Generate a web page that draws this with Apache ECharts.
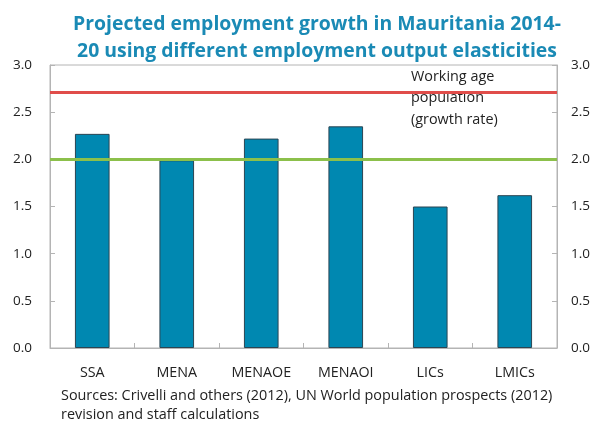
<!DOCTYPE html>
<html>
<head>
<meta charset="utf-8">
<script src="https://cdn.jsdelivr.net/npm/echarts@6/dist/echarts.min.js"></script>
<style>
  html, body { margin: 0; padding: 0; background: #fff; }
  #chart { width: 595px; height: 423px; }
</style>
</head>
<body>
<div id="chart"></div>
<script>
// Regions / income groups compared
const categories = ['SSA', 'MENA', 'MENAOE', 'MENAOI', 'LICs', 'LMICs'];
// Projected employment growth (%) under each elasticity assumption
const employmentGrowth = [2.27, 1.99, 2.22, 2.35, 1.50, 1.62];
// Reference growth rates (%)
const workingAgePopGrowth = 2.71;
const benchmarkLine = 2.0;
const yTicks = [0, 0.5, 1.0, 1.5, 2.0, 2.5, 3.0];

const FONT = '"Open Sans", "Noto Sans", sans-serif';
const axisGray = '#b4b4b4';
const labelColor = '#222';

const chart = echarts.init(document.getElementById('chart'), null, { renderer: 'canvas' });

const yAxisBase = {
  type: 'value',
  min: yTicks[0],
  max: yTicks[yTicks.length - 1],
  interval: 0.5,
  axisLine: { show: true, lineStyle: { color: axisGray } },
  axisTick: { show: true, inside: true, length: 5, lineStyle: { color: axisGray } },
  splitLine: { show: false },
  axisLabel: {
    color: labelColor, fontFamily: FONT, fontSize: 13.5,
    formatter: v => v.toFixed(1)
  }
};

chart.setOption({
  animation: false,
  title: {
    text: 'Projected employment growth in Mauritania 2014-\n20 using different employment output elasticities',
    left: 312, top: 6, textAlign: 'center',
    textStyle: { color: '#1a8ab5', fontFamily: FONT, fontWeight: 'bold', fontSize: 19.4, lineHeight: 27 }
  },
  grid: {
    left: 50, right: 38, top: 65, bottom: 75,
    show: true, borderColor: axisGray, borderWidth: 1
  },
  xAxis: {
    type: 'category',
    data: categories,
    axisLine: { show: true, lineStyle: { color: axisGray } },
    axisTick: { show: true, inside: true, length: 5, alignWithLabel: false, lineStyle: { color: axisGray } },
    axisLabel: { color: labelColor, fontFamily: FONT, fontSize: 14.3, margin: 18 }
  },
  yAxis: [
    Object.assign({}, yAxisBase, { position: 'left', axisLabel: Object.assign({}, yAxisBase.axisLabel, { margin: 18 }) }),
    Object.assign({}, yAxisBase, { position: 'right', axisLabel: Object.assign({}, yAxisBase.axisLabel, { margin: 14 }) })
  ],
  graphic: [
    {
      type: 'text', left: 411, top: 66,
      style: {
        text: 'Working age\npopulation\n(growth rate)',
        fill: labelColor, font: '14.4px ' + FONT, lineHeight: 21.5
      }
    },
    {
      type: 'text', left: 61, top: 386,
      style: {
        text: 'Sources: Crivelli and others (2012), UN World population prospects (2012)\nrevision and staff calculations',
        fill: labelColor, font: '14.4px ' + FONT, lineHeight: 19.5
      }
    }
  ],
  series: [
    {
      type: 'bar',
      yAxisIndex: 0,
      data: employmentGrowth,
      barWidth: '41%',
      itemStyle: { color: '#0088b1', borderColor: '#2b4553', borderWidth: 1 },
      markLine: {
        symbol: 'none',
        silent: true,
        label: { show: false },
        data: [
          { yAxis: workingAgePopGrowth, lineStyle: { color: '#e04d4a', width: 3, type: 'solid' } },
          { yAxis: benchmarkLine, lineStyle: { color: '#8cc04b', width: 3, type: 'solid' } }
        ]
      }
    }
  ]
});
</script>
</body>
</html>
